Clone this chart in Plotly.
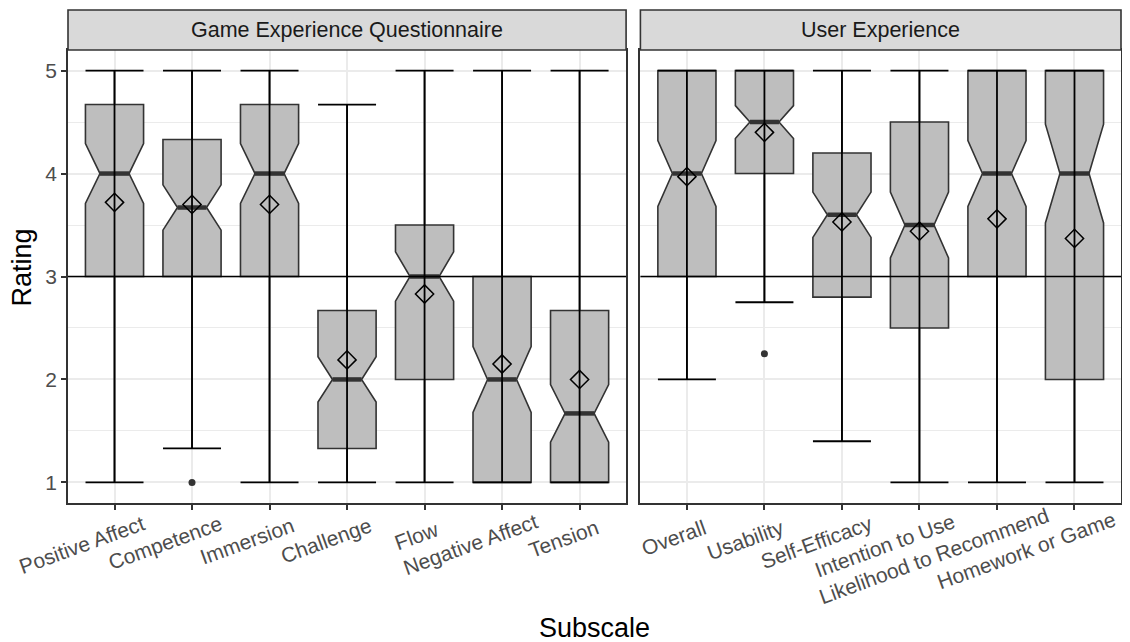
import plotly.graph_objects as go

# Game Experience Questionnaire subscales
geq_cats = ["Positive Affect", "Competence", "Immersion", "Challenge",
            "Flow", "Negative Affect", "Tension"]
geq_lower = [1, 1.33, 1, 1, 1, 1, 1]
geq_q1 = [3, 3, 3, 1.33, 2, 1, 1]
geq_median = [4, 3.67, 4, 2, 3, 2, 1.67]
geq_q3 = [4.67, 4.33, 4.67, 2.67, 3.5, 3, 2.67]
geq_upper = [5, 5, 5, 4.67, 5, 5, 5]
geq_notch = [0.29, 0.22, 0.29, 0.22, 0.24, 0.32, 0.28]
geq_mean = [3.72, 3.70, 3.70, 2.19, 2.83, 2.15, 2.00]
geq_out_cat = ["Competence"]
geq_out_val = [1.0]

# User Experience subscales
ux_cats = ["Overall", "Usability", "Self-Efficacy", "Intention to Use",
           "Likelihood to Recommend", "Homework or Game"]
ux_lower = [2, 2.75, 1.4, 1, 1, 1]
ux_q1 = [3, 4, 2.8, 2.5, 3, 2]
ux_median = [4, 4.5, 3.6, 3.5, 4, 4]
ux_q3 = [5, 5, 4.2, 4.5, 5, 5]
ux_upper = [5, 5, 5, 5, 5, 5]
ux_notch = [0.32, 0.16, 0.22, 0.32, 0.32, 0.48]
ux_mean = [3.97, 4.40, 3.53, 3.44, 3.56, 3.37]
ux_out_cat = ["Usability"]
ux_out_val = [2.25]

FONT = "Liberation Sans"
EDGE = "#333333"
GRID = "#EBEBEB"
BOXW = 0.75
TICK_SIZE = 21
SHIFT = 50  # ggplot-like rotated label justification

fig = go.Figure()


def text_w(s, size):
    # rough Arial/Helvetica width estimate
    w = 0
    for ch in s:
        if ch in "ilj":
            w += 0.222
        elif ch in "ftr -":
            w += 0.3
        elif ch.isupper() or ch in "mw":
            w += 0.72
        else:
            w += 0.54
    return w * size


def pad(lbl):
    # trailing nbsp so the label sits like ggplot's angle=20, hjust=1 text
    gap = (SHIFT - 4.5 - 0.188 * text_w(lbl, TICK_SIZE)) / 0.94
    return lbl + "\u00a0" * max(0, round(gap / (0.278 * TICK_SIZE)))


def add_panel(cats, lower, q1, med, q3, upper, notch, means, out_cat, out_val, xa, ya):
    pos = list(range(len(cats)))
    fig.add_trace(go.Box(x=pos, q1=q1, median=med, q3=q3, lowerfence=lower,
                         upperfence=upper, notchspan=notch, notched=True,
                         notchwidth=0.25, width=BOXW, whiskerwidth=0,
                         fillcolor="#BEBEBE", line=dict(color=EDGE, width=1.6),
                         boxpoints=False, hoverinfo="skip", showlegend=False,
                         xaxis=xa, yaxis=ya))
    # thick median bar
    mx, my = [], []
    for p, m in zip(pos, med):
        mx += [p - BOXW / 4, p + BOXW / 4, None]
        my += [m, m, None]
    fig.add_trace(go.Scatter(x=mx, y=my, mode="lines", line=dict(color=EDGE, width=4.5),
                             showlegend=False, hoverinfo="skip", xaxis=xa, yaxis=ya))
    # error bar whiskers
    mid = [(a + b) / 2 for a, b in zip(lower, upper)]
    half = [(b - a) / 2 for a, b in zip(lower, upper)]
    fig.add_trace(go.Scatter(x=pos, y=mid, mode="markers",
                             marker=dict(size=1, color="rgba(0,0,0,0)"),
                             error_y=dict(type="data", array=half, symmetric=True,
                                          width=29, thickness=1.8, color="black"),
                             showlegend=False, hoverinfo="skip", xaxis=xa, yaxis=ya))
    # means
    fig.add_trace(go.Scatter(x=pos, y=means, mode="markers",
                             marker=dict(symbol="diamond-open", size=14, color="black",
                                         line=dict(width=1.5)),
                             showlegend=False, xaxis=xa, yaxis=ya))
    # outliers
    fig.add_trace(go.Scatter(x=[cats.index(c) for c in out_cat], y=out_val, mode="markers",
                             marker=dict(size=7, color=EDGE),
                             showlegend=False, xaxis=xa, yaxis=ya))


add_panel(geq_cats, geq_lower, geq_q1, geq_median, geq_q3, geq_upper, geq_notch,
          geq_mean, geq_out_cat, geq_out_val, "x", "y")
add_panel(ux_cats, ux_lower, ux_q1, ux_median, ux_q3, ux_upper, ux_notch,
          ux_mean, ux_out_cat, ux_out_val, "x2", "y2")

xcommon = dict(tickangle=-20, ticks="outside", ticklen=5, tickwidth=1.6, tickcolor=EDGE,
               tickfont=dict(size=TICK_SIZE, color="#4D4D4D"), showline=True, mirror=True,
               linecolor=EDGE, linewidth=1.6, showgrid=True, gridcolor=GRID,
               gridwidth=1.5, zeroline=False, ticklabeloverflow="allow",
               ticklabelshift=SHIFT, ticklabelstandoff=-13)
ycommon = dict(range=[0.8, 5.2], tickvals=[1, 2, 3, 4, 5], showline=True, mirror=True,
               linecolor=EDGE, linewidth=1.6, showgrid=True, gridcolor=GRID,
               gridwidth=1.5, zeroline=False,
               minor=dict(tickmode="array", tickvals=[1.5, 2.5, 3.5, 4.5],
                          showgrid=True, gridcolor=GRID, gridwidth=0.8))

strip_h = 40 / 453
shapes, annotations = [], []
for xa, ya, title in [("x", "y", "Game Experience Questionnaire"), ("x2", "y2", "User Experience")]:
    shapes.append(dict(type="line", xref=xa + " domain", yref=ya, x0=0, x1=1, y0=3, y1=3,
                       line=dict(color="black", width=1.6), layer="above"))
    shapes.append(dict(type="rect", xref=xa + " domain", yref=ya + " domain", x0=0, x1=1,
                       y0=1, y1=1 + strip_h, fillcolor="#D9D9D9",
                       line=dict(color=EDGE, width=1.6)))
    annotations.append(dict(text=title, xref=xa + " domain", yref=ya + " domain", x=0.5,
                            y=1 + strip_h / 2, showarrow=False, yanchor="middle",
                            font=dict(size=21.5, color="#1A1A1A")))

annotations.append(dict(text="Rating", xref="paper", yref="paper", x=0, y=0.52,
                        xshift=-46, textangle=-90, showarrow=False, xanchor="center",
                        yanchor="middle", font=dict(size=27, color="black")))
annotations.append(dict(text="Subscale", xref="paper", yref="paper", x=0.5, y=0,
                        yshift=-125, showarrow=False, xanchor="center",
                        yanchor="middle", font=dict(size=27, color="black")))

# page body adds 8px offset, so the figure is 8px smaller than the window
fig.update_layout(
    width=1122, height=634,
    margin=dict(l=60, r=1, t=42, b=139),
    plot_bgcolor="white", paper_bgcolor="white",
    font=dict(family=FONT),
    showlegend=False,
    xaxis=dict(domain=[0, 0.5300], range=[-0.6, 6.6], tickvals=list(range(len(geq_cats))),
               ticktext=[pad(c) for c in geq_cats], **xcommon),
    xaxis2=dict(domain=[0.5436, 1], range=[-0.6, 5.6], tickvals=list(range(len(ux_cats))),
                ticktext=[pad(c) for c in ux_cats], anchor="y2", **xcommon),
    yaxis=dict(domain=[0, 1], ticks="outside", ticklen=5, tickwidth=1.6, tickcolor=EDGE,
               tickfont=dict(size=TICK_SIZE, color="#4D4D4D"), **ycommon),
    yaxis2=dict(domain=[0, 1], anchor="x2", matches="y", showticklabels=False, ticks="",
                **ycommon),
    shapes=shapes,
    annotations=annotations,
)

fig.write_html("out.html")
